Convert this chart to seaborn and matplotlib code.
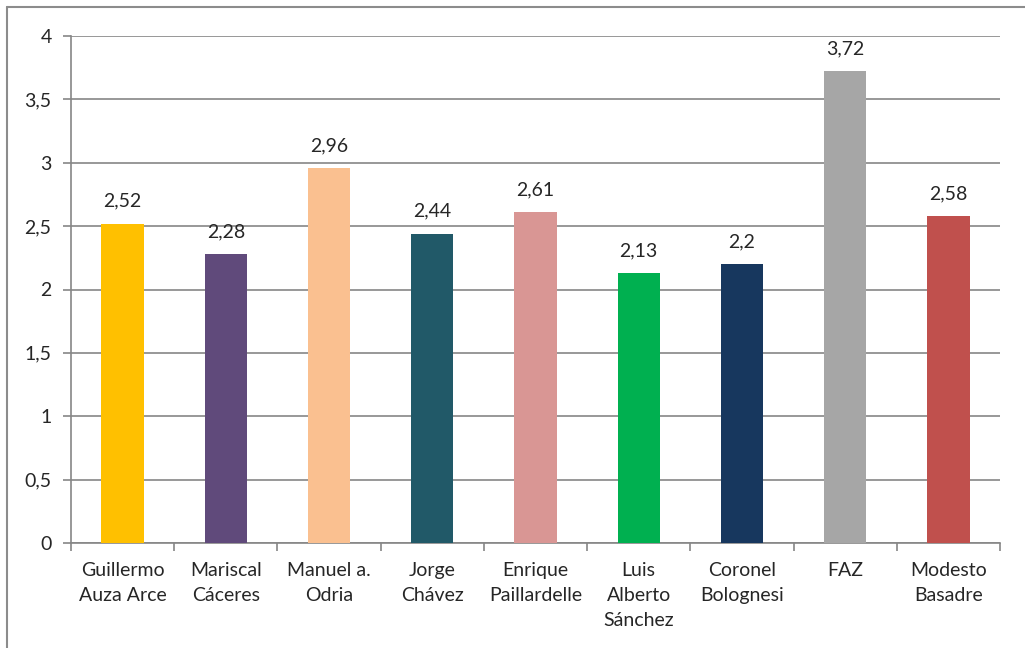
import matplotlib
matplotlib.use("Agg")
import matplotlib.pyplot as plt
from matplotlib.lines import Line2D
import seaborn as sns
import pandas as pd

# School names and their average scores
schools = [
    "Guillermo\nAuza Arce",
    "Mariscal\nCáceres",
    "Manuel a.\nOdria",
    "Jorge\nChávez",
    "Enrique\nPaillardelle",
    "Luis\nAlberto\nSánchez",
    "Coronel\nBolognesi",
    "FAZ",
    "Modesto\nBasadre",
]
scores = [2.52, 2.28, 2.96, 2.44, 2.61, 2.13, 2.2, 3.72, 2.58]
colors = ["#FFC000", "#604A7B", "#FAC090", "#215968", "#D99694",
          "#00B050", "#17375E", "#A6A6A6", "#C0504D"]
yticks = [0, 0.5, 1, 1.5, 2, 2.5, 3, 3.5, 4]

sns.set_style("white")
plt.rcParams["font.family"] = ["Lato", "DejaVu Sans"]

df = pd.DataFrame({"school": schools, "score": scores})

fig = plt.figure(figsize=(10.25, 6.48), dpi=100)
ax = fig.add_axes([71 / 1025, 105 / 648, 929 / 1025, 507 / 648])

sns.barplot(data=df, x="school", y="score", hue="school", palette=colors,
            legend=False, width=0.41, saturation=1, linewidth=0,
            ax=ax, zorder=3)

grid_color = "#868686"
fs = 14
ax.set_ylim(0, 4)
ax.set_xlim(-0.5, len(schools) - 0.5)
ax.set_yticks(yticks)
ax.set_yticklabels([f"{t:g}".replace(".", ",") for t in yticks], fontsize=fs)
ax.yaxis.grid(True, color=grid_color, linewidth=1.2, zorder=0)
ax.tick_params(axis="y", left=True, length=6, color=grid_color, width=1.2, pad=8)
ax.tick_params(axis="x", which="major", bottom=True, length=0, labelsize=fs, pad=14)
for lbl in ax.get_xticklabels():
    lbl.set_linespacing(1.55)
ax.set_xticks([i - 0.5 for i in range(len(schools) + 1)], minor=True)
ax.tick_params(axis="x", which="minor", bottom=True, length=6,
               color=grid_color, width=1.2)
ax.set_xlabel("")
ax.set_ylabel("")

for side in ["top", "right"]:
    ax.spines[side].set_visible(False)
for side in ["left", "bottom"]:
    ax.spines[side].set_color(grid_color)
    ax.spines[side].set_linewidth(1.2)

# Value labels above each bar
for container in ax.containers:
    ax.bar_label(container, labels=[f"{v:g}".replace(".", ",") for v in container.datavalues],
                 padding=10, fontsize=fs)

# Chart area border (top and left edges)
fig.add_artist(Line2D([7 / 1025, 1.0], [1 - 7 / 648, 1 - 7 / 648],
                      transform=fig.transFigure, color="#8C8C8C", linewidth=1.5))
fig.add_artist(Line2D([7 / 1025, 7 / 1025], [0.0, 1 - 7 / 648],
                      transform=fig.transFigure, color="#8C8C8C", linewidth=1.5))

fig.savefig("out.png", dpi=100)
